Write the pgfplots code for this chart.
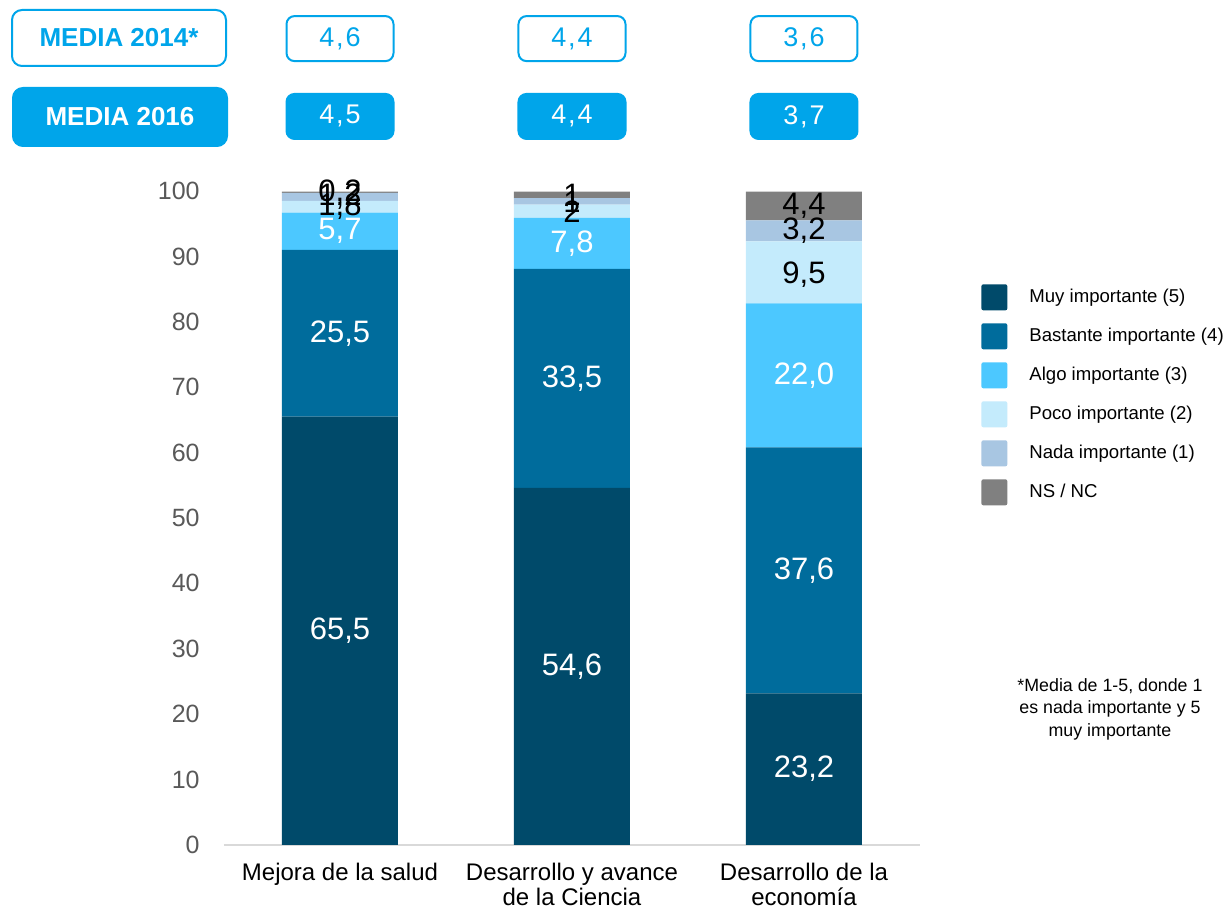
\documentclass[border=0pt]{standalone}
\usepackage{pgfplots}
\pgfplotsset{compat=1.18}
\usepackage{fontspec}
\setmainfont{Liberation Sans}
\newfontfamily\spaced[LetterSpace=7]{Liberation Sans}
\definecolor{c5}{HTML}{004A6A}
\definecolor{c4}{HTML}{006C9C}
\definecolor{c3}{HTML}{4CC8FF}
\definecolor{c2}{HTML}{C4EBFC}
\definecolor{c1}{HTML}{A8C6E2}
\definecolor{c0}{HTML}{808080}
\definecolor{mblue}{HTML}{00A5EA}
\definecolor{tickgrey}{HTML}{595959}
\definecolor{baseline}{HTML}{D9D9D9}
\begin{document}
\begin{tikzpicture}[x=1pt,y=1pt]
\useasboundingbox (0,0) rectangle (614,455);
\pgfplotsset{
  common/.style={
    scale only axis, width=348pt, height=327pt,
    at={(112pt,32.5pt)}, anchor=south west,
    xmin=-0.5, xmax=2.5, ymin=0, ymax=100,
  }
}
\begin{axis}[common,
  ybar stacked, bar width=58pt,
  axis x line=bottom, axis y line=left,
  axis line style={-},
  x axis line style={draw=baseline, line width=1pt},
  y axis line style={draw=none},
  major tick length=0pt,
  ytick={0,10,...,100},
  /pgf/number format/assume math mode=true,
  yticklabel style={font=\fontsize{12.5}{14}\selectfont, text=tickgrey, inner sep=0pt, xshift=-12pt, anchor=east},
  xtick={0,1,2},
  xticklabels={Mejora de la salud, {Desarrollo y avance\\de la Ciencia}, {Desarrollo de la\\economía}},
  xticklabel style={align=center, font=\fontsize{12}{12.5}\selectfont, text=black, anchor=north, inner sep=0pt, yshift=-9pt},
  legend style={draw=none, at={(1.079,0.864)}, anchor=north west,
    font=\fontsize{9.3}{11}\selectfont, row sep=6.5pt, column sep=9pt},
  legend cell align=left,
  legend image code/.code={\fill[#1, rounded corners=1pt] (0pt,-6.5pt) rectangle (13pt,6.5pt);},
]
\addplot[fill=c5, draw=none] coordinates {(0,65.5) (1,54.6) (2,23.2)};
\addplot[fill=c4, draw=none] coordinates {(0,25.5) (1,33.5) (2,37.6)};
\addplot[fill=c3, draw=none] coordinates {(0,5.7) (1,7.8) (2,22.0)};
\addplot[fill=c2, draw=none] coordinates {(0,1.8) (1,2) (2,9.5)};
\addplot[fill=c1, draw=none] coordinates {(0,1.2) (1,1) (2,3.2)};
\addplot[fill=c0, draw=none] coordinates {(0,0.2) (1,1) (2,4.4)};
\legend{Muy importante (5), Bastante importante (4), Algo importante (3), Poco importante (2), Nada importante (1), NS / NC}
\end{axis}
\begin{axis}[common, hide axis, clip=false]
\addplot[draw=none, nodes near coords, point meta=explicit symbolic,
  every node near coord/.style={anchor=center, text=white, font=\fontsize{15.5}{16}\selectfont}]
  table[meta=lab] {
x y lab
0 32.75 65,5
0 78.25 25,5
0 93.85 5,7
1 27.3 54,6
1 71.35 33,5
1 92.0 7,8
2 11.6 23,2
2 42.0 37,6
2 71.8 22,0
};
\addplot[draw=none, nodes near coords, point meta=explicit symbolic,
  every node near coord/.style={anchor=center, text=black, font=\fontsize{15.5}{16}\selectfont}]
  table[meta=lab] {
x y lab
0 97.6 1,8
0 99.1 1,2
0 99.8 0,2
1 96.9 2
1 98.4 1
1 99.4 1
2 87.175 9,5
2 93.9 3,2
2 97.7 4,4
};
\addplot[draw=none, nodes near coords, point meta=explicit symbolic,
  every node near coord/.style={anchor=center, draw=mblue, line width=1pt, fill=white,
    rounded corners=4pt, minimum width=53.5pt, minimum height=22.5pt, inner sep=0pt,
    text=mblue, font=\spaced\fontsize{13.5}{14}\selectfont}]
  table[meta=lab] {
x y lab
0 123.3 4,6
1 123.3 4,4
2 123.3 3,6
};
\addplot[draw=mblue, draw=none, nodes near coords, point meta=explicit symbolic,
  every node near coord/.style={anchor=center, draw=mblue, line width=1pt, fill=mblue,
    rounded corners=4pt, minimum width=53.5pt, minimum height=22.5pt, inner sep=0pt,
    text=white, font=\spaced\fontsize{13.5}{14}\selectfont}]
  table[meta=lab] {
x y lab
0 111.4 4,5
1 111.4 4,4
2 111.4 3,7
};
\node[align=center, font=\fontsize{8.9}{11.25}\selectfont] at (rel axis cs:1.273,0.208)
  {*Media de 1-5, donde 1\\es nada importante y 5\\muy importante};
\end{axis}
\node[draw=mblue, line width=1pt, rounded corners=5pt, minimum width=107pt, minimum height=28pt,
  text=mblue, font=\bfseries\fontsize{13}{14}\selectfont] at (59.5,436) {MEDIA 2014*};
\node[draw=mblue, fill=mblue, line width=1pt, rounded corners=5pt, minimum width=107pt, minimum height=29pt,
  text=white, font=\bfseries\fontsize{13}{14}\selectfont] at (60,396.5) {MEDIA 2016};
\end{tikzpicture}
\end{document}
